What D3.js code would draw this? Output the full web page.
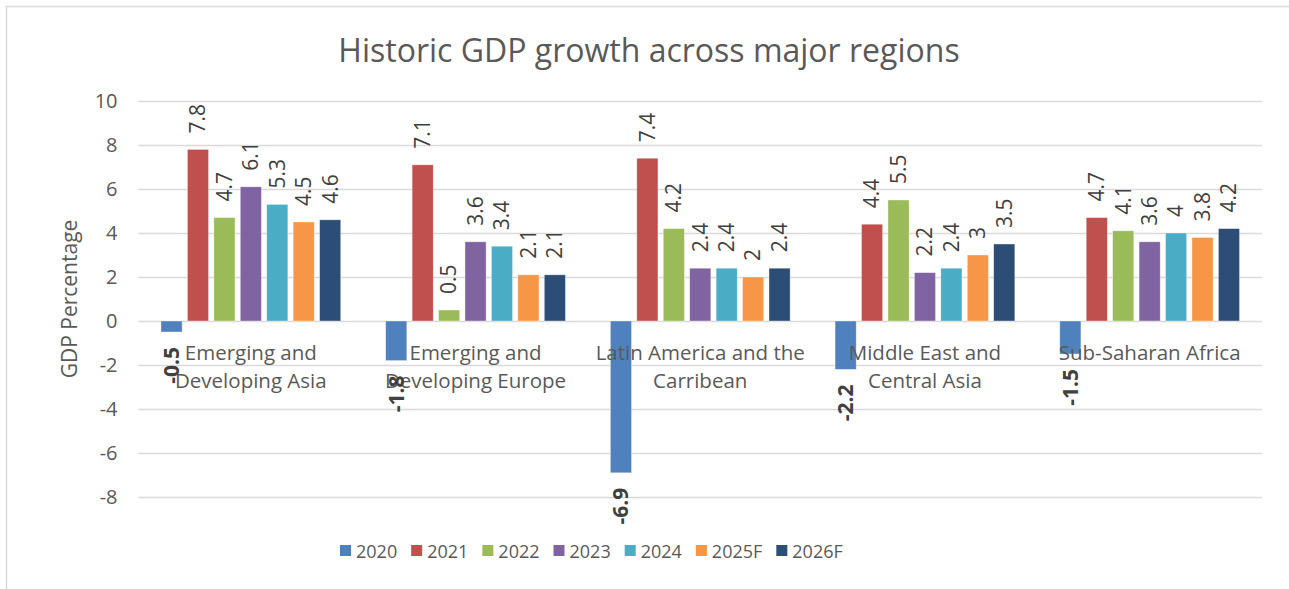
<!DOCTYPE html>
<html>
<head>
<meta charset="utf-8">
<script src="https://cdn.jsdelivr.net/npm/d3@7"></script>
<style>
  body { margin: 0; background: #fff; }
  text { font-family: "Open Sans", sans-serif; fill: #595959; }
</style>
</head>
<body>
<script>
var categories = ["Emerging and\nDeveloping Asia", "Emerging and\nDeveloping Europe",
    "Latin America and the\nCarribean", "Middle East and\nCentral Asia", "Sub-Saharan Africa"];
var series = ["2020", "2021", "2022", "2023", "2024", "2025F", "2026F"];
var v2020 = [-0.5, -1.8, -6.9, -2.2, -1.5];
var v2021 = [7.8, 7.1, 7.4, 4.4, 4.7];
var v2022 = [4.7, 0.5, 4.2, 5.5, 4.1];
var v2023 = [6.1, 3.6, 2.4, 2.2, 3.6];
var v2024 = [5.3, 3.4, 2.4, 2.4, 4];
var v2025F = [4.5, 2.1, 2, 3, 3.8];
var v2026F = [4.6, 2.1, 2.4, 3.5, 4.2];
var yTicks = [-8, -6, -4, -2, 0, 2, 4, 6, 8, 10];

var colors = ["#4f81bd", "#c0504d", "#9bbb59", "#8064a2", "#4bacc6", "#f79646", "#2c4d75"];
var allValues = [v2020, v2021, v2022, v2023, v2024, v2025F, v2026F];

var width = 1289, height = 589;
var plotLeft = 138.5, plotRight = 1262, plotTop = 101, plotBottom = 497;

var svg = d3.select("body").append("svg")
    .attr("width", width)
    .attr("height", height);

// chart frame
svg.append("rect")
    .attr("x", 6.5).attr("y", 6.5)
    .attr("width", 1320).attr("height", 620)
    .attr("fill", "none")
    .attr("stroke", "#d9d9d9")
    .attr("stroke-width", 1.5);

var y = d3.scaleLinear().domain([-8, 10]).range([plotBottom, plotTop]);
var x0 = d3.scaleBand().domain(categories).range([plotLeft, plotRight]);
var x1 = d3.scaleBand().domain(series).range([0, x0.bandwidth()])
    .paddingInner(0.2).paddingOuter(0.85);

svg.append("g")
    .attr("class", "y axis")
    .attr("transform", "translate(" + plotLeft + ",0)")
    .call(d3.axisLeft(y).tickValues(yTicks).tickFormat(function(d) { return String(d); })
        .tickSize(-(plotRight - plotLeft)).tickPadding(21))
    .call(function(g) {
        g.select(".domain").remove();
        g.selectAll(".tick line").attr("stroke", "#d9d9d9").attr("stroke-width", 1.5);
        g.selectAll(".tick text")
            .style("font-size", "20px")
            .style("font-family", "'Open Sans', sans-serif")
            .attr("fill", "#595959");
    });

// bars
var data = [];
series.forEach(function(s, i) {
    categories.forEach(function(c, j) {
        data.push({cat: c, key: s, value: allValues[i][j], color: colors[i]});
    });
});

svg.append("g").selectAll("rect")
    .data(data)
    .enter()
    .append("rect")
    .attr("x", function(d) { return x0(d.cat) + x1(d.key); })
    .attr("y", function(d) { return y(Math.max(0, d.value)); })
    .attr("width", x1.bandwidth())
    .attr("height", function(d) { return Math.abs(y(d.value) - y(0)); })
    .attr("fill", function(d) { return d.color; })
    .attr("stroke", "rgba(255,255,255,0.5)")
    .attr("stroke-width", 0.75);

// category labels
svg.append("g").selectAll("text")
    .data(categories)
    .enter()
    .append("text")
    .attr("text-anchor", "middle")
    .style("font-size", "20.5px")
    .each(function(c) {
        var t = d3.select(this);
        c.split("\n").forEach(function(line, k) {
            t.append("tspan")
                .attr("x", x0(c) + x0.bandwidth() / 2)
                .attr("y", 360 + k * 28)
                .text(line);
        });
    });

// data labels
svg.append("g").selectAll("text")
    .data(data)
    .enter()
    .append("text")
    .attr("transform", function(d) {
        var cx = x0(d.cat) + x1(d.key) + x1.bandwidth() / 2;
        var cy = d.value < 0 ? y(d.value) + 15 : y(d.value) - 16;
        return "translate(" + cx + "," + cy + ") rotate(-90)";
    })
    .attr("dy", "0.35em")
    .attr("text-anchor", function(d) { return d.value < 0 ? "end" : "start"; })
    .style("font-size", "21px")
    .style("font-weight", function(d) { return d.value < 0 ? "bold" : "normal"; })
    .style("fill", "#404040")
    .text(function(d) { return d.value; });

// title
svg.append("text")
    .attr("x", 649)
    .attr("y", 62)
    .attr("text-anchor", "middle")
    .style("font-size", "32px")
    .text("Historic GDP growth across major regions");

// y label
svg.append("text")
    .attr("transform", "translate(77," + ((plotTop + plotBottom) / 2) + ") rotate(-90)")
    .attr("text-anchor", "middle")
    .style("font-size", "21px")
    .text("GDP Percentage");

// legend
var legend = svg.append("g").attr("class", "legend");
var lx = 340;
series.forEach(function(s, i) {
    var item = legend.append("g").attr("transform", "translate(" + lx + ",545)");
    item.append("rect")
        .attr("width", 11).attr("height", 11)
        .attr("fill", colors[i]);
    var t = item.append("text")
        .attr("x", 16).attr("y", 12.5)
        .style("font-size", "18px")
        .text(s);
    lx += 16 + t.node().getComputedTextLength() + 14;
});
</script>
</body>
</html>
